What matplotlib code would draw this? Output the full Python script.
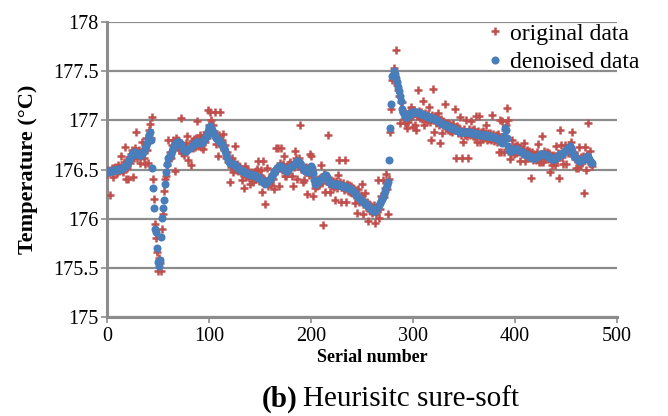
import matplotlib
matplotlib.use("Agg")
import matplotlib.pyplot as plt

plt.rcParams['font.family'] = ['Liberation Serif', 'DejaVu Serif']

# ---- data ----
denoised = [
    176.47, 176.47, 176.48, 176.48, 176.49, 176.49, 176.50, 176.50, 176.50, 176.50,
    176.50, 176.51, 176.51, 176.51, 176.51, 176.52, 176.52, 176.53, 176.54, 176.55,
    176.56, 176.58, 176.60, 176.62, 176.64, 176.66, 176.67, 176.68, 176.68, 176.67,
    176.66, 176.65, 176.65, 176.65, 176.66, 176.68, 176.70, 176.72, 176.74, 176.77,
    176.81, 176.85, 176.88, 176.80, 176.52, 176.31, 176.11, 175.90, 175.86, 175.70,
    175.56, 175.52, 175.58, 175.81, 176.01, 176.11, 176.19, 176.35, 176.47, 176.56,
    176.62, 176.63, 176.64, 176.66, 176.69, 176.72, 176.74, 176.76, 176.77, 176.78,
    176.78, 176.78, 176.77, 176.75, 176.73, 176.71, 176.70, 176.69, 176.69, 176.70,
    176.71, 176.72, 176.73, 176.74, 176.75, 176.76, 176.77, 176.78, 176.78, 176.78,
    176.78, 176.77, 176.77, 176.78, 176.79, 176.80, 176.82, 176.83, 176.85, 176.89,
    176.93, 176.94, 176.92, 176.90, 176.88, 176.86, 176.84, 176.82, 176.81, 176.80,
    176.80, 176.78, 176.77, 176.75, 176.73, 176.72, 176.69, 176.66, 176.63, 176.60,
    176.58, 176.57, 176.57, 176.56, 176.56, 176.55, 176.55, 176.54, 176.53, 176.52,
    176.51, 176.50, 176.49, 176.48, 176.47, 176.47, 176.46, 176.46, 176.45, 176.45,
    176.45, 176.44, 176.44, 176.44, 176.44, 176.43, 176.43, 176.42, 176.42, 176.41,
    176.40, 176.39, 176.38, 176.37, 176.36, 176.35, 176.36, 176.37, 176.38, 176.39,
    176.40, 176.41, 176.43, 176.45, 176.47, 176.49, 176.51, 176.52, 176.53, 176.54,
    176.54, 176.54, 176.53, 176.52, 176.51, 176.50, 176.49, 176.49, 176.50, 176.52,
    176.53, 176.54, 176.55, 176.56, 176.57, 176.58, 176.59, 176.59, 176.58, 176.57,
    176.55, 176.53, 176.52, 176.50, 176.49, 176.48, 176.48, 176.47, 176.50, 176.53,
    176.54, 176.52, 176.46, 176.39, 176.35, 176.35, 176.36, 176.37, 176.38, 176.39,
    176.40, 176.41, 176.42, 176.43, 176.44, 176.44, 176.42, 176.39, 176.37, 176.36,
    176.36, 176.35, 176.35, 176.35, 176.35, 176.35, 176.35, 176.34, 176.34, 176.34,
    176.33, 176.33, 176.33, 176.32, 176.32, 176.32, 176.31, 176.31, 176.30, 176.30,
    176.29, 176.28, 176.27, 176.26, 176.24, 176.23, 176.22, 176.21, 176.20, 176.19,
    176.18, 176.17, 176.16, 176.16, 176.15, 176.14, 176.13, 176.12, 176.11, 176.10,
    176.09, 176.08, 176.08, 176.08, 176.09, 176.11, 176.12, 176.14, 176.16, 176.18,
    176.20, 176.22, 176.25, 176.28, 176.31, 176.34, 176.37, 176.60, 176.92, 177.17,
    177.45, 177.50, 177.47, 177.43, 177.39, 177.34, 177.30, 177.25, 177.20, 177.12,
    177.08, 177.06, 177.04, 177.03, 177.03, 177.04, 177.05, 177.06, 177.07, 177.08,
    177.08, 177.08, 177.08, 177.08, 177.08, 177.07, 177.07, 177.07, 177.06, 177.06,
    177.05, 177.05, 177.05, 177.04, 177.04, 177.03, 177.03, 177.02, 177.02, 177.02,
    177.02, 177.01, 177.01, 177.00, 177.00, 176.99, 176.98, 176.98, 176.97, 176.96,
    176.96, 176.95, 176.95, 176.94, 176.94, 176.93, 176.93, 176.92, 176.92, 176.92,
    176.91, 176.91, 176.90, 176.90, 176.89, 176.89, 176.88, 176.88, 176.88, 176.88,
    176.88, 176.88, 176.88, 176.88, 176.88, 176.88, 176.88, 176.87, 176.87, 176.87,
    176.87, 176.86, 176.86, 176.86, 176.86, 176.86, 176.85, 176.85, 176.85, 176.85,
    176.85, 176.85, 176.85, 176.84, 176.84, 176.84, 176.84, 176.84, 176.83, 176.83,
    176.83, 176.82, 176.82, 176.81, 176.80, 176.79, 176.78, 176.77, 176.78, 176.84,
    176.92, 176.90, 176.82, 176.74, 176.70, 176.69, 176.69, 176.70, 176.70, 176.71,
    176.71, 176.71, 176.71, 176.70, 176.70, 176.69, 176.68, 176.68, 176.67, 176.66,
    176.66, 176.66, 176.65, 176.65, 176.64, 176.63, 176.63, 176.62, 176.62, 176.62,
    176.62, 176.63, 176.63, 176.64, 176.65, 176.65, 176.66, 176.66, 176.66, 176.66,
    176.65, 176.65, 176.64, 176.63, 176.62, 176.62, 176.61, 176.61, 176.61, 176.62,
    176.62, 176.63, 176.64, 176.65, 176.66, 176.66, 176.66, 176.67, 176.68, 176.69,
    176.70, 176.71, 176.72, 176.73, 176.74, 176.72, 176.69, 176.66, 176.64, 176.63,
    176.62, 176.61, 176.60, 176.59, 176.59, 176.60, 176.60, 176.61, 176.61, 176.62,
    176.63, 176.64, 176.63, 176.61, 176.59, 176.58, 176.57,
]

original = [
    176.45, 176.50, 176.47, 176.24, 176.50, 176.52, 176.42, 176.52, 176.53, 176.47,
    176.46, 176.55, 176.48, 176.53, 176.64, 176.50, 176.47, 176.58, 176.73, 176.40,
    176.52, 176.40, 176.63, 176.57, 176.66, 176.70, 176.42, 176.62, 176.72, 176.88,
    176.62, 176.70, 176.57, 176.64, 176.78, 176.70, 176.62, 176.56, 176.82, 176.70,
    176.57, 176.90, 176.96, 176.82, 177.03, 176.40, 176.20, 175.95, 175.80, 175.66,
    175.47, 175.60, 175.55, 175.47, 175.90, 176.05, 176.28, 176.40, 176.43, 176.55,
    176.80, 176.61, 176.68, 176.62, 176.75, 176.80, 176.72, 176.49, 176.82, 176.74,
    176.80, 176.70, 176.75, 177.02, 176.67, 176.75, 176.65, 176.73, 176.77, 176.84,
    176.60, 176.73, 176.55, 176.79, 176.72, 176.81, 176.73, 176.82, 176.99, 176.74,
    176.81, 176.85, 176.73, 176.82, 176.71, 176.85, 176.78, 176.88, 176.82, 177.11,
    176.95, 177.09, 177.00, 176.88, 176.95, 176.89, 177.09, 176.76, 176.83, 176.64,
    176.85, 177.09, 176.74, 176.80, 176.86, 176.70, 176.75, 176.62, 176.68, 176.58,
    176.60, 176.37, 176.53, 176.62, 176.47, 176.58, 176.74, 176.50, 176.56, 176.48,
    176.54, 176.46, 176.39, 176.50, 176.31, 176.54, 176.42, 176.50, 176.48, 176.41,
    176.35, 176.47, 176.41, 176.37, 176.46, 176.40, 176.48, 176.51, 176.59, 176.38,
    176.44, 176.50, 176.27, 176.59, 176.40, 176.15, 176.38, 176.52, 176.33, 176.41,
    176.36, 176.34, 176.45, 176.40, 176.30, 176.51, 176.72, 176.48, 176.72, 176.33,
    176.57, 176.72, 176.50, 176.56, 176.64, 176.43, 176.43, 176.46, 176.53, 176.56,
    176.58, 176.43, 176.33, 176.53, 176.69, 176.62, 176.40, 176.55, 176.62, 176.95,
    176.51, 176.55, 176.37, 176.39, 176.47, 176.53, 176.25, 176.50, 176.44, 176.66,
    176.64, 176.50, 176.23, 176.42, 176.31, 176.38, 176.33, 176.40, 176.34, 176.41,
    176.55, 176.36, 175.94, 176.45, 176.27, 176.40, 176.39, 176.85, 176.35, 176.27,
    176.39, 176.33, 176.38, 176.32, 176.19, 176.38, 176.31, 176.44, 176.60, 176.37,
    176.17, 176.36, 176.29, 176.60, 176.17, 176.35, 176.28, 176.34, 176.27, 176.33,
    176.26, 176.31, 176.24, 176.16, 176.29, 176.06, 176.30, 176.17, 176.22, 176.24,
    176.35, 176.05, 176.19, 176.26, 176.12, 176.17, 175.98, 176.15, 176.08, 176.13,
    176.06, 176.11, 176.14, 175.96, 176.05, 176.12, 176.39, 176.01, 176.10, 176.23,
    176.21, 176.39, 176.22, 176.31, 176.45, 176.30, 176.05, 176.40, 176.88, 177.12,
    177.41, 177.53, 177.44, 177.72, 177.36, 177.31, 177.25, 176.97, 177.19, 177.19,
    177.09, 177.01, 176.97, 176.98, 176.92, 176.98, 177.10, 177.03, 177.14, 177.04,
    176.93, 177.11, 176.95, 176.90, 177.04, 177.31, 177.10, 177.02, 177.09, 177.01,
    177.20, 176.95, 177.07, 177.01, 176.99, 177.06, 177.14, 176.98, 176.80, 177.05,
    177.32, 176.88, 177.04, 176.97, 177.03, 177.07, 176.95, 176.77, 177.01, 176.87,
    176.99, 177.17, 176.92, 176.97, 176.90, 176.96, 176.89, 176.95, 176.88, 176.96,
    176.90, 177.12, 176.62, 176.94, 176.87, 176.92, 177.03, 176.85, 176.62, 176.78,
    176.91, 176.85, 177.00, 176.84, 176.62, 176.91, 176.85, 176.99, 176.90, 176.84,
    176.91, 176.83, 177.04, 176.78, 176.89, 177.04, 176.78, 176.88, 176.82, 176.89,
    176.82, 176.87, 176.95, 176.80, 176.87, 176.81, 176.87, 176.80, 177.05, 176.86,
    176.79, 176.85, 176.78, 176.86, 176.68, 177.00, 176.68, 176.99, 176.83, 176.68,
    176.90, 176.95, 177.13, 177.00, 176.73, 176.61, 176.66, 176.80, 176.73, 176.66,
    176.74, 176.67, 176.75, 176.68, 176.73, 176.59, 176.72, 176.66, 176.71, 176.77,
    176.59, 176.65, 176.70, 176.63, 176.69, 176.62, 176.41, 176.68, 176.60, 176.66,
    176.65, 176.60, 176.68, 176.76, 176.58, 176.66, 176.58, 176.84, 176.58, 176.69,
    176.62, 176.68, 176.61, 176.67, 176.47, 176.60, 176.55, 176.65, 176.58, 176.55,
    176.74, 176.60, 176.67, 176.41, 176.90, 176.75, 176.63, 176.56, 176.69, 176.75,
    176.56, 176.72, 176.67, 176.75, 176.70, 176.78, 176.88, 176.64, 176.68, 176.61,
    176.52, 176.64, 176.52, 176.73, 176.56, 176.63, 176.57, 176.64, 176.26, 176.73,
    176.50, 176.65, 176.97, 176.59, 176.69, 176.56, 176.54,
]

serial = list(range(len(denoised)))
x_ticks = [0, 100, 200, 300, 400, 500]
y_ticks = [175, 175.5, 176, 176.5, 177, 177.5, 178]
y_tick_labels = ["175", "175.5", "176", "176.5", "177", "177.5", "178"]

RED = "#C0504D"
BLUE = "#4A7EBB"
GRID = "#8C8C8C"

fig = plt.figure(figsize=(6.68, 4.16), dpi=100)
ax = fig.add_axes([0.160, 0.238, 0.7635, 0.709])

ax.plot(serial, original, linestyle="none", marker="+", color=RED,
        markersize=5.5, markeredgewidth=1.8, label="original data", zorder=3)
ax.plot(serial, denoised, linestyle="none", marker="o", color=BLUE,
        markersize=5.8, markeredgewidth=0, label="denoised data", zorder=4)

ax.set_xlim(0, 500)
ax.set_ylim(175, 178)
ax.set_xticks(x_ticks)
ax.set_yticks(y_ticks)
ax.set_yticklabels(y_tick_labels)
ax.grid(axis="y", color=GRID, linewidth=1.6)
ax.set_axisbelow(True)

for side in ("top", "right"):
    ax.spines[side].set_visible(False)
for side in ("left", "bottom"):
    ax.spines[side].set_color(GRID)
    ax.spines[side].set_linewidth(2.2)

ax.tick_params(axis="both", colors=GRID, length=4, width=1.2, direction="out",
               labelsize=14.5, labelcolor="black")
ax.tick_params(axis="y", pad=2)

ax.set_xlabel("Serial number", fontsize=13, fontweight="bold")
ax.xaxis.set_label_coords(0.52, -0.11)
ax.set_ylabel("Temperature (°C)", fontsize=16, fontweight="bold")
ax.yaxis.set_label_coords(-0.135, 0.5)

fig.legend(loc="upper left", bbox_to_anchor=(486 / 668, 1 - 23 / 416),
           frameon=False, fontsize=17, handletextpad=0.2, borderpad=0.0,
           borderaxespad=0.0, labelspacing=0.3, handlelength=0.8)

t1 = fig.text(262 / 668, 1 - 399 / 416, "(b)", fontsize=21, fontweight="bold",
              ha="left", va="center")
fig.canvas.draw()
bb = t1.get_window_extent()
fig.text((bb.x1 + 5) / fig.bbox.width, 1 - 399 / 416, "Heurisitc sure-soft",
         fontsize=21, ha="left", va="center")

fig.savefig("out.png", dpi=100)
